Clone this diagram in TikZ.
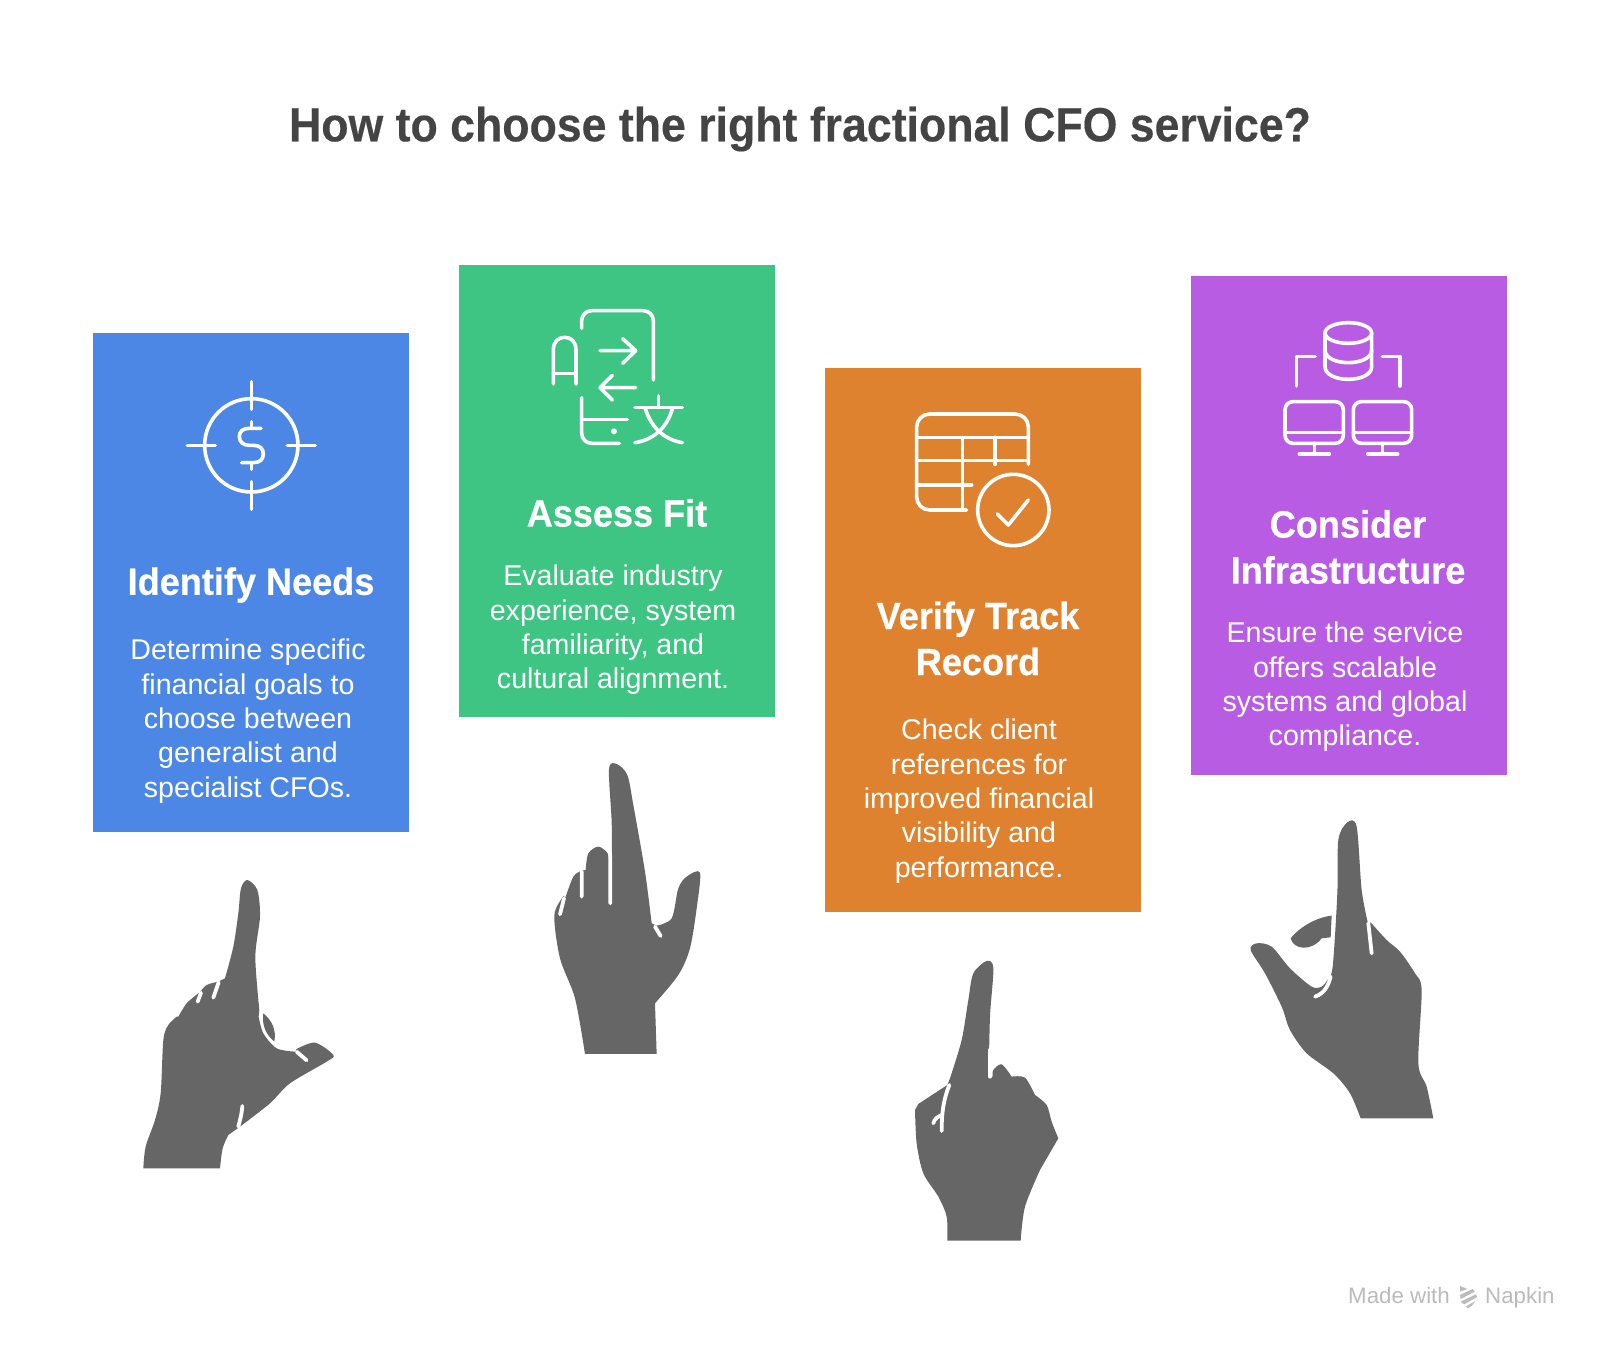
\documentclass[tikz,border=0pt]{standalone}
\usepackage{fontspec}
\setmainfont{Liberation Sans}
\newfontfamily\titlefont{Liberation Sans}[FakeStretch=0.93, FakeBold=0.3]
\newfontfamily\headfont{Liberation Sans}[FakeStretch=0.95, FakeBold=0.4]
\definecolor{needsblue}{HTML}{4C87E6}
\definecolor{fitgreen}{HTML}{3EC583}
\definecolor{trackorange}{HTML}{DE8230}
\definecolor{infrapurple}{HTML}{B85DE3}
\definecolor{handgrey}{HTML}{666666}
\definecolor{titlegrey}{HTML}{444444}
\definecolor{markgrey}{HTML}{BBBBBB}
\tikzstyle{cardbox} = [rectangle, anchor=north west, minimum width=316pt, inner sep=0pt]
\tikzstyle{cardhead} = [text=white, align=center, inner sep=0pt, font=\fontsize{38}{46}\headfont\bfseries]
\tikzstyle{cardtext} = [text=white, align=center, inner sep=0pt, font=\fontsize{28.6}{34.3}\selectfont]
\tikzstyle{marktext} = [text=markgrey, anchor=base west, inner sep=0pt, font=\fontsize{22.3}{24}\selectfont]
\tikzstyle{iconline} = [white, line width=3.6pt, line cap=round, line join=round]
\tikzstyle{handshape} = [fill=handgrey]
\tikzstyle{handslit} = [white, line width=3.8pt, line cap=round]

\begin{document}
\begin{tikzpicture}[x=1pt,y=-1pt]
\useasboundingbox (0,0) rectangle (1600,1348);

\node (title) [text=titlegrey, inner sep=0pt, font=\fontsize{48}{50}\titlefont\bfseries] at (800,129) {How to choose the right fractional CFO service?};

\node (box1) [cardbox, fill=needsblue, minimum height=499pt] at (93,333) {};
\node (box2) [cardbox, fill=fitgreen, minimum height=452pt] at (459,265) {};
\node (box3) [cardbox, fill=trackorange, minimum height=544pt] at (825,368) {};
\node (box4) [cardbox, fill=infrapurple, minimum height=499pt] at (1191,276) {};

\node (head1) [cardhead] at (251,585) {Identify Needs};
\node (head2) [cardhead] at (617,513) {Assess Fit};
\node (head3) [cardhead] at (978,638.5) {Verify Track\\Record};
\node (head4) [cardhead] at (1348,547) {Consider\\Infrastructure};

\node (text1) [cardtext] at (248,721) {Determine specific\\financial goals to\\choose between\\generalist and\\specialist CFOs.};
\node (text2) [cardtext] at (613,630) {Evaluate industry\\experience, system\\familiarity, and\\cultural alignment.};
\node (text3) [cardtext] at (979,801) {Check client\\references for\\improved financial\\visibility and\\performance.};
\node (text4) [cardtext] at (1345,687) {Ensure the service\\offers scalable\\systems and global\\compliance.};

\begin{scope}[shift={(90,320)},scale=0.3333]
\draw [iconline] (484,376) circle (140);
\draw [iconline] (484,185) -- (484,268) (484,485) -- (484,568) (292,376) -- (376,376) (592,376) -- (676,376);
\draw [iconline] (513,325) -- (478,325) .. controls (458,325) and (448,335) .. (448,350) .. controls (448,366) and (460,376) .. (478,376) -- (490,376) .. controls (510,376) and (520,386) .. (520,402) .. controls (520,418) and (510,428) .. (490,428) -- (455,428);
\draw [iconline] (484,305) -- (484,325) (484,428) -- (484,448);
\end{scope}

\begin{scope}[shift={(520,290)},scale=0.3333]
\draw [iconline, rounded corners=10pt] (185,115) -- (185,62) -- (400,62) -- (400,270);
\draw [iconline] (100,282) -- (100,180) .. controls (100,155) and (115,142) .. (134,142) .. controls (153,142) and (168,155) .. (168,180) -- (168,282);
\draw [iconline] (100,250) -- (168,250);
\draw [iconline] (240,182) -- (345,182) (308,146) -- (347,182) -- (308,220);
\draw [iconline] (347,293) -- (240,293) (277,256) -- (240,293) -- (277,330);
\draw [iconline, rounded corners=10pt] (185,323) -- (185,460) -- (298,460);
\draw [iconline] (185,388) -- (322,388);
\fill [white] (282,424) circle (9);
\draw [iconline] (345,353) -- (487,353) (415,318) -- (415,353);
\draw [iconline] (375,353) .. controls (395,420) and (440,450) .. (487,458);
\draw [iconline] (458,353) .. controls (440,420) and (395,450) .. (345,458);
\end{scope}

\begin{scope}[shift={(890,395)},scale=0.3333]
\draw [iconline, rounded corners=13pt] (415,208) -- (415,57) -- (80,57) -- (80,345) -- (230,345);
\draw [iconline] (80,127) -- (415,127) (80,197) -- (415,197) (80,270) -- (245,270);
\draw [iconline] (217,127) -- (217,345) (315,127) -- (315,208);
\draw [iconline] (370,345) circle (107);
\draw [iconline] (322,357) -- (355,390) -- (415,315);
\end{scope}

\begin{scope}[shift={(1270,310)},scale=0.3333]
\draw [iconline] (235,69) ellipse (70 and 31);
\draw [iconline] (165,69) -- (165,170) .. controls (165,195) and (200,208) .. (235,208) .. controls (270,208) and (305,195) .. (305,170) -- (305,69);
\draw [iconline] (165,120) .. controls (165,145) and (200,158) .. (235,158) .. controls (270,158) and (305,145) .. (305,120);
\draw [iconline] (80,228) -- (80,140) -- (135,140) (390,228) -- (390,140) -- (337,140);
\draw [iconline, rounded corners=8pt] (45,275) rectangle (220,400);
\draw [iconline, rounded corners=8pt] (250,275) rectangle (425,400);
\draw [iconline] (45,367) -- (220,367) (250,367) -- (425,367);
\draw [iconline] (133,400) -- (133,432) (88,432) -- (178,432) (338,400) -- (338,432) (293,432) -- (383,432);
\end{scope}

\begin{scope}[shift={(130,870)},scale=0.3333]
\fill [handshape] (40,895) -- plot [smooth, tension=0.5] coordinates {(40,895) (47,830) (75,750) (92,670) (100,510) (115,465) (140,440)} -- plot [smooth, tension=0.5] coordinates {(145,440) (170,400) (205,370)} -- plot [smooth, tension=0.5] coordinates {(208,368) (230,345) (265,335)} -- plot [smooth, tension=0.5] coordinates {(285,325) (310,230) (325,130) (333,55) (352,30) (382,60) (390,140) (376,260) (388,420)} -- plot [smooth, tension=0.5] coordinates {(386,440) (400,490) (440,535) (495,545)} -- plot [smooth, tension=0.5] coordinates {(500,537) (555,518) (610,555) (590,575) (480,640) (420,700) (330,770)} -- (295,795) -- plot [smooth, tension=0.5] coordinates {(295,795) (278,835) (270,895)} -- cycle;
\fill [handshape] (400,430) .. controls (425,450) and (440,480) .. (433,515) .. controls (410,495) and (395,470) .. (400,430) -- cycle;
\draw [handslit] (203,395) -- (213,368) (250,383) -- (266,337) (500,545) -- (530,571) (337,708) .. controls (335,735) and (330,750) .. (325,770);
\end{scope}

\begin{scope}[shift={(540,755)},scale=0.3333]
\fill [handshape] (135,897) -- plot [smooth, tension=0.5] coordinates {(135,897) (105,730) (60,610) (43,480) (72,422)} -- plot [smooth, tension=0.5] coordinates {(72,440) (100,365) (126,347)} -- plot [smooth, tension=0.5] coordinates {(137,345) (145,295) (175,275) (203,295) (207,330)} -- plot [smooth, tension=0.5] coordinates {(216,330) (215,200) (207,42) (230,27) (262,60) (280,150) (315,350) (335,505)} -- plot [smooth, tension=0.5] coordinates {(350,512) (395,490) (415,400) (440,365) (480,353) (470,460) (450,580) (415,660) (345,745)} -- (350,897) -- cycle;
\draw [handslit] (60,478) -- (72,430) (125,425) -- (125,350) (211,445) -- (211,300) (345,515) -- (362,543);
\end{scope}

\begin{scope}[shift={(900,950)},scale=0.3333]
\fill [handshape] (142,872) -- plot [smooth, tension=0.5] coordinates {(142,872) (140,800) (115,740) (70,670) (50,580) (45,480)} -- (55,462) -- (142,405) -- plot [smooth, tension=0.5] coordinates {(150,385) (185,270) (205,150) (220,70) (260,33) (280,55) (270,200) (266,380)} -- plot [smooth, tension=0.5] coordinates {(278,380) (280,360) (305,343) (335,380)} -- plot [smooth, tension=0.5] coordinates {(335,380) (375,383) (405,435)} -- plot [smooth, tension=0.5] coordinates {(405,435) (440,465) (455,515) (475,565)} -- (420,660) -- plot [smooth, tension=0.5] coordinates {(420,660) (375,770) (362,872)} -- cycle;
\draw [handslit] (148,405) .. controls (130,450) and (125,490) .. (125,543);
\draw [handslit] (100,520) .. controls (103,505) and (115,500) .. (125,495);
\draw [handslit] (270,380) -- (270,300);
\end{scope}

\begin{scope}[shift={(1240,810)},scale=0.3333]
\fill [handshape] (362,925) -- plot [smooth, tension=0.5] coordinates {(362,925) (330,850) (280,790) (200,730) (150,660) (125,590) (75,490) (32,420) (50,400) (95,410) (150,475) (215,530) (245,530) (262,510) (278,470) (292,250) (295,90) (322,37) (350,50) (365,240) (385,345)} -- plot [smooth, tension=0.5] coordinates {(392,337) (440,390) (480,425) (525,490) (545,540) (535,760) (560,830) (580,925)} -- cycle;
\fill [handshape] (275,317) .. controls (230,322) and (180,350) .. (152,385) .. controls (160,420) and (215,425) .. (245,385) -- (272,382) -- cycle;
\draw [handslit] (225,560) .. controls (255,550) and (265,525) .. (272,500);
\draw [handslit] (385,340) -- (395,430);
\end{scope}

\node (madewith) [marktext] at (1348,1303) {Made with};
\node (napkin) [marktext] at (1485,1303) {Napkin};
\begin{scope}[shift={(1330,1275)},scale=0.3333]
\fill [markgrey] (390,33) -- (412,42) -- (390,50) -- cycle;
\fill [markgrey] (390,60) -- (428,42) -- (434,50) -- (392,72) -- cycle;
\fill [markgrey] (392,80) -- (438,58) -- (442,66) -- (402,88) -- cycle;
\fill [markgrey] (408,94) -- (436,78) -- (426,92) -- (414,100) -- cycle;
\end{scope}
\end{tikzpicture}
\end{document}
